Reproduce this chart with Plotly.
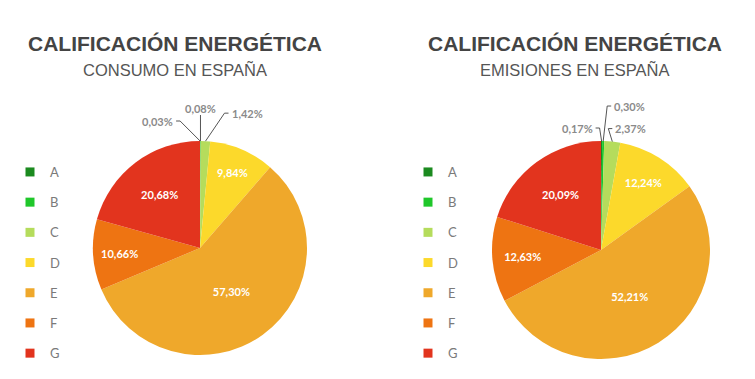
import math
import plotly.graph_objects as go

W, H = 755, 379

categories = ["A", "B", "C", "D", "E", "F", "G"]
colors = ["#1b8a1f", "#1fc72a", "#b5dc5c", "#fcd92b", "#efa82b", "#ee7412", "#e2341e"]
consumo = [0.03, 0.08, 1.42, 9.84, 57.30, 10.66, 20.68]
emisiones = [0.17, 0.30, 2.37, 12.24, 52.21, 12.63, 20.09]

title_main = "CALIFICACIÓN ENERGÉTICA"
sub_left = "CONSUMO EN ESPAÑA"
sub_right = "EMISIONES EN ESPAÑA"


def fmt(v):
    return f"{v:.2f}".replace(".", ",") + "%"


# pie geometry (pixels): centre and radius
pies = [
    dict(vals=consumo, cx=200, cy=248, r=107, sub=sub_left, tx=175, legend="legend",
         small=[(-23, -20, "right"), (0, -33, "center"), (22, -28, "left")]),
    dict(vals=emisiones, cx=601, cy=250, r=109, sub=sub_right, tx=575, legend="legend2",
         small=[(-5, -13, "right"), (7, -35, "left"), (-1, -13, "left")]),
]

px = lambda x: x / W
py = lambda y: 1 - y / H

fig = go.Figure()
annotations = []
shapes = []

for p in pies:
    cx, cy, r = p["cx"], p["cy"], p["r"]
    txt = [fmt(v) if v > 5 else "" for v in p["vals"]]
    fig.add_trace(go.Pie(
        labels=categories, values=p["vals"], sort=False, direction="clockwise",
        rotation=0, marker=dict(colors=colors, line=dict(color="white", width=0)),
        text=txt, textinfo="text", textposition="inside",
        insidetextorientation="horizontal",
        textfont=dict(family="Lato", size=11, color="white", weight="bold"),
        domain=dict(x=[px(cx - r), px(cx + r)], y=[py(cy + r), py(cy - r)]),
        showlegend=False, hoverinfo="label+text",
    ))
    total = sum(p["vals"])
    cum = 0.0
    k = 0
    for v in p["vals"]:
        mid = (cum + v / 2) / total
        cum += v
        if v > 5:
            continue
        th = 2 * math.pi * mid
        ex, ey = cx + r * math.sin(th), cy - r * math.cos(th)
        dx, dy, anc = p["small"][k]
        k += 1
        lx, ly = ex + dx, ey + dy
        if anc == "center":
            path = f"M {px(ex)} {py(ey)} L {px(lx)} {py(ly + 7)}"
            tx = lx
        elif anc == "right":
            path = f"M {px(ex)} {py(ey)} L {px(lx + 3)} {py(ly)} L {px(lx - 1)} {py(ly)}"
            tx = lx - 2
        else:
            path = f"M {px(ex)} {py(ey)} L {px(lx - 3)} {py(ly)} L {px(lx + 1)} {py(ly)}"
            tx = lx + 2
        shapes.append(dict(type="path", path=path, xref="paper", yref="paper",
                           line=dict(color="#555555", width=1)))
        annotations.append(dict(x=px(tx), y=py(ly), xref="paper", yref="paper",
                                text=fmt(v), showarrow=False, xanchor=anc, yanchor="middle",
                                font=dict(family="Lato", size=11, color="#8a8a8a", weight="bold")))
    annotations.append(dict(x=px(p["tx"]), y=py(43), xref="paper", yref="paper",
                            text=f"<b>{title_main}</b>", showarrow=False,
                            xanchor="center", yanchor="middle",
                            font=dict(family="Liberation Sans", size=21, color="#444444")))
    annotations.append(dict(x=px(p["tx"]), y=py(70), xref="paper", yref="paper",
                            text=p["sub"], showarrow=False, xanchor="center", yanchor="middle",
                            font=dict(family="Liberation Sans", size=16.5, color="#555555")))
    for c, col in zip(categories, colors):
        fig.add_trace(go.Scatter(
            x=[None], y=[None], mode="markers", name=c, legend=p["legend"],
            legendgroup=p["legend"] + c,
            marker=dict(symbol="square", size=9, color=col), hoverinfo="skip",
        ))

leg = dict(bgcolor="rgba(0,0,0,0)", tracegroupgap=10.3, traceorder="grouped",
           font=dict(family="Lato", size=13, color="#7a7a7a"),
           xanchor="left", yanchor="top", itemclick=False, itemdoubleclick=False)

fig.update_layout(
    width=W, height=H, margin=dict(l=0, r=0, t=0, b=0),
    paper_bgcolor="white", plot_bgcolor="white",
    xaxis=dict(visible=False, domain=[0, 0.01]), yaxis=dict(visible=False, domain=[0, 0.01]),
    legend=dict(x=px(10), y=py(157), **leg),
    legend2=dict(x=px(408), y=py(157), **leg),
    annotations=annotations, shapes=shapes, showlegend=True,
)

fig.write_html("out.html", config={"displayModeBar": False},
               post_script="document.body.style.margin='0';")
